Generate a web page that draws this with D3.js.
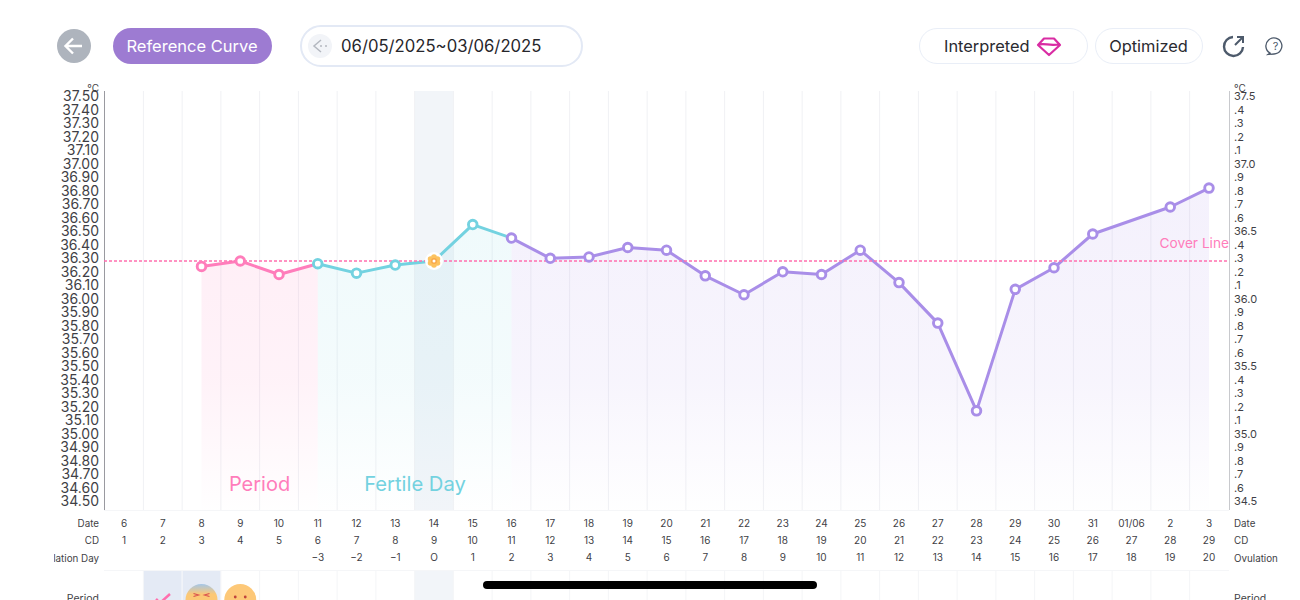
<!DOCTYPE html>
<html><head><meta charset="utf-8">
<script src="https://cdn.jsdelivr.net/npm/d3@7"></script>
<style>html,body{margin:0;padding:0;background:#fff;overflow:hidden}svg{display:block}text{font-family:"Inter","Noto Sans",sans-serif}</style>
</head><body><svg id="c" width="1300" height="600"></svg>
<script>
const dateLabels=["6","7","8","9","10","11","12","13","14","15","16","17","18","19","20","21","22","23","24","25","26","27","28","29","30","31","01/06","2","3"];
const cycleDays=["1","2","3","4","5","6","7","8","9","10","11","12","13","14","15","16","17","18","19","20","21","22","23","24","25","26","27","28","29"];
const ovulationDays=["","","","","","−3","−2","−1","O","1","2","3","4","5","6","7","8","9","10","11","12","13","14","15","16","17","18","19","20"];
const temps=[null,null,36.26,36.30,36.20,36.28,36.21,36.27,36.30,36.57,36.47,36.32,36.33,36.40,36.38,36.19,36.05,36.22,36.20,36.38,36.14,35.84,35.19,36.09,36.25,36.50,null,36.70,36.84];
const tempTicks=d3.range(0,31).map(i=>37.5-i*0.1);
const coverLine=36.30;
const phases=[{name:"period",from:2,to:5,color:"#ff7dbb",a:.13},{name:"fertile",from:5,to:10,color:"#73d2e0",a:.11},{name:"luteal",from:10,to:28,color:"#a98ee8",a:.12}];

const svg=d3.select("#c");
const x=d3.scaleLinear().domain([0,28]).range([124,1209]);
const y=d3.scaleLinear().domain([34.5,37.5]).range([504,99]);
const step=x(1)-x(0);
const plotTop=91,plotBot=510;
const ink="#3f3f46";
const defs=svg.append("defs");
phases.forEach(p=>{const g=defs.append("linearGradient").attr("id","g-"+p.name).attr("gradientUnits","userSpaceOnUse").attr("x1",0).attr("x2",0).attr("y1",220).attr("y2",510);
 g.append("stop").attr("offset",0).attr("stop-color",p.color).attr("stop-opacity",p.a);
 g.append("stop").attr("offset",.55).attr("stop-color",p.color).attr("stop-opacity",p.a*.75);
 g.append("stop").attr("offset",1).attr("stop-color",p.color).attr("stop-opacity",0.005);});

// highlighted ovulation column
svg.append("rect").attr("x",x(8)-step/2).attr("width",step).attr("y",plotTop).attr("height",plotBot-plotTop).attr("fill","#f2f5f9");
svg.append("rect").attr("x",x(8)-step/2).attr("width",step).attr("y",571).attr("height",29).attr("fill","#f2f5f9");
// grid
const grid=d3.range(1,29).map(i=>x(i)-step/2);
svg.append("g").selectAll("line").data(grid).join("line").attr("x1",d=>d).attr("x2",d=>d).attr("y1",plotTop).attr("y2",plotBot).attr("stroke","#f0f1f4");
svg.append("g").selectAll("line").data(grid).join("line").attr("x1",d=>d).attr("x2",d=>d).attr("y1",571).attr("y2",600).attr("stroke","#f4f5f7");
svg.append("line").attr("x1",104.5).attr("x2",104.5).attr("y1",plotTop).attr("y2",plotBot).attr("stroke","#9a9aa0");
svg.append("line").attr("x1",1229.5).attr("x2",1229.5).attr("y1",plotTop).attr("y2",plotBot).attr("stroke","#c8c9cd");
svg.append("line").attr("x1",104).attr("x2",1229).attr("y1",510.5).attr("y2",510.5).attr("stroke","#f5f6f8");
svg.append("line").attr("x1",104).attr("x2",1229).attr("y1",570.5).attr("y2",570.5).attr("stroke","#f5f6f8");

// areas and lines
const pts=temps.map((t,i)=>({i,t})).filter(d=>d.t!=null);
phases.forEach(p=>{
 const sub=pts.filter(d=>d.i>=p.from&&d.i<=p.to);
 svg.append("path").datum(sub).attr("fill",`url(#g-${p.name})`).attr("d",d3.area().x(d=>x(d.i)).y0(510).y1(d=>y(d.t)));
});
phases.forEach(p=>{
 const sub=pts.filter(d=>d.i>=p.from&&d.i<=p.to);
 svg.append("path").datum(sub).attr("fill","none").attr("stroke",p.color).attr("stroke-width",3).attr("stroke-linejoin","round").attr("d",d3.line().x(d=>x(d.i)).y(d=>y(d.t)));
});
// cover line
svg.append("line").attr("x1",104).attr("x2",1229).attr("y1",y(coverLine)).attr("y2",y(coverLine)).attr("stroke","#ff6fae").attr("stroke-width",1.3).attr("stroke-dasharray","3 2");
svg.append("text").attr("x",1229).attr("y",248).attr("text-anchor","end").attr("font-size",13.7).attr("fill","#ff7dbb").text("Cover Line");
// points
const colorAt=i=>i<5?"#ff7dbb":i<10?"#73d2e0":"#a98ee8";
svg.append("g").selectAll("circle").data(pts.filter(d=>d.i!=8)).join("circle").attr("cx",d=>x(d.i)).attr("cy",d=>y(d.t)).attr("r",4.3).attr("fill","#fff").attr("stroke",d=>colorAt(d.i)).attr("stroke-width",2.9);
// ovulation flower
const ov=pts.find(d=>d.i==8);
const fg=svg.append("g").attr("transform",`translate(${x(ov.i)},${y(ov.t)})`);
fg.append("circle").attr("r",9).attr("fill","#fff");
d3.range(6).forEach(k=>{const a=k*Math.PI/3-Math.PI/2;fg.append("circle").attr("cx",4*Math.cos(a)).attr("cy",4*Math.sin(a)).attr("r",2.8).attr("fill","#fcc25f");});
fg.append("circle").attr("r",3).attr("fill","#f9a94b");fg.append("circle").attr("r",1.5).attr("fill","#fff");

svg.append("text").attr("x",259.5).attr("y",491).attr("text-anchor","middle").attr("font-size",20).attr("fill","#ff7dbb").text("Period");
svg.append("text").attr("x",415).attr("y",491).attr("text-anchor","middle").attr("font-size",20.2).attr("fill","#73d2e0").text("Fertile Day");

// axis labels
svg.append("g").selectAll("text").data(tempTicks).join("text").attr("x",99).attr("y",d=>y(d)-2.7).attr("dy","0.36em").attr("text-anchor","end").attr("font-size",14).attr("fill",ink).text(d=>d.toFixed(2));
svg.append("text").attr("x",99).attr("y",92).attr("text-anchor","end").attr("font-size",10).attr("fill",ink).text("°C");
svg.append("g").selectAll("text").data(tempTicks).join("text").attr("x",1234).attr("y",d=>y(d)-2.7).attr("dy","0.36em").attr("font-size",11).attr("fill",ink).text(d=>{const n=Math.round(d*10);return n%5==0?d.toFixed(1):"."+(n%10);});
svg.append("text").attr("x",1234).attr("y",92).attr("font-size",10).attr("fill",ink).text("°C");

// rows
const rows=[{l:"Date",r:"Date",v:dateLabels,yy:523},{l:"CD",r:"CD",v:cycleDays,yy:540},{l:"Ovulation Day",r:"Ovulation",v:ovulationDays,yy:557.5}];
rows.forEach(r=>{
 svg.append("g").selectAll("text").data(r.v).join("text").attr("x",(d,i)=>x(i)).attr("y",r.yy).attr("dy","0.36em").attr("text-anchor","middle").attr("font-size",10).attr("fill",ink).text(d=>d);
 svg.append("text").attr("x",1234).attr("y",r.yy+.5).attr("dy","0.36em").attr("font-size",9.8).attr("fill",ink).text(r.r);
});
defs.append("clipPath").attr("id","lc").append("rect").attr("x",54).attr("y",500).attr("width",50).attr("height",100);
const lg=svg.append("g").attr("clip-path","url(#lc)");
rows.forEach(r=>lg.append("text").attr("x",99).attr("y",r.yy+.5).attr("dy","0.36em").attr("text-anchor","end").attr("font-size",9.8).attr("fill",ink).text(r.l));
svg.append("text").attr("x",99).attr("y",602).attr("text-anchor","end").attr("font-size",10.5).attr("fill",ink).text("Period");
svg.append("text").attr("x",1234).attr("y",602).attr("font-size",10.5).attr("fill",ink).text("Period");

// period row
[1,2].forEach(i=>svg.append("rect").attr("x",x(i)-step/2+.5).attr("width",step-1).attr("y",571).attr("height",29).attr("fill","#e4eaf5"));
svg.append("path").attr("d",`M156,599 L160,603 L170,594`).attr("fill","none").attr("stroke","#ff6fae").attr("stroke-width",2.5);
const e1=svg.append("g").attr("transform",`translate(${x(2)},600)`);
const eg=defs.append("linearGradient").attr("id","eg").attr("x1",0).attr("x2",0).attr("y1",0).attr("y2",1);
eg.append("stop").attr("offset",0).attr("stop-color","#a4c6e8");eg.append("stop").attr("offset",.32).attr("stop-color","#fcc875");
e1.append("circle").attr("r",16).attr("fill","url(#eg)");
e1.append("path").attr("d","M-8,-6.5 l5,1.5 l-5,1.5 M8,-6.5 l-5,1.5 l5,1.5").attr("fill","none").attr("stroke","#d9534f").attr("stroke-width",1.2);
const e2=svg.append("g").attr("transform",`translate(${x(3)},600)`);
e2.append("circle").attr("r",16).attr("fill","#fdc878");
e2.append("circle").attr("cx",-5).attr("cy",-3).attr("r",1.4).attr("fill","#c0443c");
e2.append("circle").attr("cx",5).attr("cy",-3).attr("r",1.4).attr("fill","#c0443c");

// home bar
svg.append("rect").attr("x",483).attr("y",581).attr("width",334).attr("height",8).attr("rx",4).attr("fill","#000");

// header
svg.append("circle").attr("cx",74).attr("cy",46).attr("r",17).attr("fill","#aeb4bd");
svg.append("path").attr("d","M82,46 H66 M73,38.5 L65.5,46 L73,53.5").attr("fill","none").attr("stroke","#fff").attr("stroke-width",2.4);
svg.append("rect").attr("x",113).attr("y",28).attr("width",159).attr("height",36).attr("rx",18).attr("fill","#9d7bd2");
svg.append("text").attr("x",192).attr("y",46).attr("dy","0.36em").attr("text-anchor","middle").attr("font-size",16.5).attr("fill","#fff").text("Reference Curve");
svg.append("rect").attr("x",301).attr("y",26).attr("width",281).attr("height",40).attr("rx",20).attr("fill","#fff").attr("stroke","#e3e9f5").attr("stroke-width",2);
svg.append("circle").attr("cx",320).attr("cy",46).attr("r",12).attr("fill","#f2f4f8");
svg.append("path").attr("d","M321,40 L314,46 L321,52").attr("fill","none").attr("stroke","#b4b8c0").attr("stroke-width",1.5);
svg.append("circle").attr("cx",321).attr("cy",46).attr("r",1).attr("fill","#b4b8c0");
svg.append("circle").attr("cx",326).attr("cy",46).attr("r",1).attr("fill","#b4b8c0");
svg.append("text").attr("x",341).attr("y",46).attr("dy","0.36em").attr("font-size",16.7).attr("fill","#26262b").text("06/05/2025~03/06/2025");
svg.append("rect").attr("x",919.5).attr("y",28.5).attr("width",168).attr("height",35).attr("rx",17.5).attr("fill","#fff").attr("stroke","#e9eef7");
svg.append("text").attr("x",944).attr("y",46).attr("dy","0.36em").attr("font-size",16.4).attr("fill","#2a2a30").text("Interpreted");
svg.append("path").attr("d","M1038,45 L1044,38.5 H1054 L1060,45 L1049,55 Z M1038,45 C1044,42 1050,47 1060,44").attr("fill","none").attr("stroke","#d92ca3").attr("stroke-width",2.2).attr("stroke-linejoin","round");
svg.append("rect").attr("x",1095.5).attr("y",28.5).attr("width",107).attr("height",35).attr("rx",17.5).attr("fill","#fff").attr("stroke","#e9eef7");
svg.append("text").attr("x",1148.5).attr("y",46).attr("dy","0.36em").attr("text-anchor","middle").attr("font-size",16.4).attr("fill","#2a2a30").text("Optimized");
svg.append("path").attr("d","M1233,37 A9.5,9.5 0 1 0 1243,47").attr("fill","none").attr("stroke","#4d5a6b").attr("stroke-width",2.4);
svg.append("path").attr("d","M1235,45 L1243,37 M1237,37 H1243 V43").attr("fill","none").attr("stroke","#4d5a6b").attr("stroke-width",2);
svg.append("path").attr("d","M1270,53 A8,8 0 1 1 1274,54 L1268,54.5 Z").attr("fill","none").attr("stroke","#4d5a6b").attr("stroke-width",1.3);
svg.append("text").attr("x",1275.5).attr("y",46).attr("dy","0.36em").attr("text-anchor","middle").attr("font-size",11).attr("fill","#4d5a6b").text("?");
</script></body></html>
